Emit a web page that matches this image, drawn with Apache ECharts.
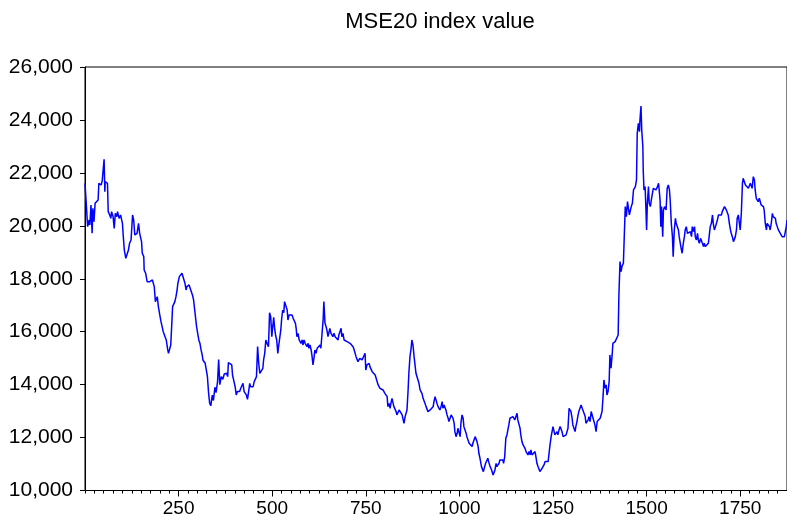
<!DOCTYPE html>
<html>
<head>
<meta charset="utf-8">
<script src="https://cdn.jsdelivr.net/npm/echarts@6/dist/echarts.min.js"></script>
<style>
html,body{margin:0;padding:0;background:#fff;}
#chart{width:787px;height:522px;}
</style>
</head>
<body>
<div id="chart"></div>
<script>
var chartTitle = 'MSE20 index value';
var yTicks = [10000, 12000, 14000, 16000, 18000, 20000, 22000, 24000, 26000];
var xTickLabels = [250, 500, 750, 1000, 1250, 1500, 1750];

var obsIdx = [
0,3,7,11,13,16,19,21,24,27,29,32,35,37,40,43,46,49,51,53,54,57,60,62,66,69,71,75,78,81,85,87,91,95,100,102,105,109,112,116,119,123,127,130,133,135,139,141,143,146,149,151,153,157,158,162,166,169,173,176,180,182,185,188,191,193,196,199,203,207,209,214,217,221,223,226,229,231,234,238,240,243,246,248,252,256,259,262,264,267,270,272,275,278,281,284,287,290,293,296,298,301,304,307,310,313,315,318,321,324,
327,330,333,336,340,343,347,350,354,357,360,364,368,372,
374,378,381,383,387,392,394,398,401,404,407,410,413,416,418,422,425,427,431,434,437,440,442,445,449,452,456,458,461,464,467,469,472,475,477,480,483,486,490,493,496,499,501,504,507,509,512,515,517,520,523,525,528,531,533,537,540,542,545,548,550,553,556,559,562,564,566,569,572,574,577,580,582,585,588,590,593,596,598,601,604,606,609,612,614,617,620,622,625,628,630,633,636,638,641,644,646,649,652,654,657,660,662,665,668,670,673,676,678,681,684,686,689,692,694,697,700,702,705,708,710,713,716,719,721,724,726,729,732,734,737,740,743,745,748,750,753,756,759,761,
764,767,769,772,775,777,780,783,785,788,791,793,796,799,801,804,807,809,812,815,817,820,823,825,828,831,833,836,839,841,844,847,849,852,855,857,860,863,865,868,871,873,876,879,881,884,887,889,892,895,897,900,903,906,908,911,914,916,919,922,924,927,930,932,935,938,940,943,946,948,951,954,956,959,962,964,967,970,972,975,978,980,983,986,988,991,994,996,999,1002,1004,1007,1010,1012,1015,1018,1020,1023,1026,1028,1031,1034,1036,1039,1042,1044,1047,1050,1052,1055,
1059,1064,1067,1070,1073,1076,1078,1082,1086,1090,1092,1095,1098,1100,1103,1106,1108,1112,1116,1118,1121,
1124,1127,1130,1132,1135,1138,1140,1143,1146,1148,1151,1154,1156,1159,1162,1164,1167,1170,1172,1175,1178,1181,1183,1186,1189,1191,1194,1197,1199,1202,1205,1207,1210,1213,1215,1218,1221,1223,1226,1229,1231,1234,1237,1239,1242,1245,1247,1250,1253,1255,1258,1261,1263,1266,1269,1271,1274,1277,1279,1282,1285,1287,1290,1293,1295,1298,1301,1303,1306,1309,1311,1314,1317,1319,1322,1325,1328,1330,1333,1336,1338,1341,1344,1346,1349,1352,1354,1357,1360,1362,1365,1368,1370,1373,1376,1378,1381,1384,1386,1389,1392,1394,1397,1400,1402,1405,1408,1410,1413,1416,1418,1421,1424,1426,
1429,1432,1434,1438,1441,1443,1446,1449,1451,1454,1457,1459,1462,1465,1467,1470,1473,1475,1478,1481,1482,1485,1487,1490,1491,1493,1496,1498,1500,1502,1505,1507,1510,1514,1518,1522,1525,1529,1532,1536,1538,1540,1543,1545,1548,1552,1555,1558,1561,1563,1566,1569,1571,1574,1577,1579,1582,1585,1587,1590,1593,1595,1598,1601,1603,1606,1609,1611,1614,1617,1620,1622,1625,1628,1630,1633,1636,1638,1641,1644,1646,1649,1652,1654,1657,1660,1662,1665,1668,1670,1673,1676,1678,1681,1684,1686,1689,1692,1694,1697,1700,1702,1705,1708,1710,1713,1716,1718,1721,1724,1726,1729,1732,1734,1737,1740,1742,1745,1748,1750,1753,1756,1758,1761,1764,1766,1769,1772,1774,1777,1780,1782,1785,1788,1790,1793,1796,1798,1801,1804,1806,1809,1812,1814,1817,1820,1822,1825,1828,1830,1833,1836,1838,1841,1844,1846,1849,1852,1854,1857,1860,1862,1865,1868,1871,1873,1875
];

var mseValue = [
21605,20913,19968,20220,20031,20787,19717,20661,20157,20850,20913,20787,20976,21605,21668,21542,21706,21668,22511,21290,21668,21605,21605,20535,20409,20283,20535,20346,19905,20472,20346,20535,20283,20409,20094,19654,19087,18772,18835,19087,19339,19465,20409,20220,19654,19591,19717,19654,20094,19717,19528,19402,18961,18835,18332,18206,17891,17828,17891,17828,17954,18017,17702,17136,17073,17324,16947,16695,16380,16317,16002,15940,15688,15310,15184,15121,15499,16065,16947,17010,17136,17324,17576,17828,18080,18143,18206,18269,18143,17828,17576,17702,17639,17765,17702,17513,17387,17199,16821,16443,16191,15940,15688,15562,15310,15121,14932,14995,14806,14555,
14300,13700,13300,13200,13600,13400,13900,13700,14100,14950,14000,14300,14200,14400,
14365,14428,14302,14831,14843,14743,14365,14302,13924,13610,13736,13799,13736,13862,13824,14050,13736,13673,13610,13446,13736,14050,13924,13988,13924,14113,14176,14302,15435,14806,14428,14491,14365,14617,14932,15183,15687,15561,15435,16719,16568,15813,16128,16543,16065,15876,15687,15183,15435,15410,16065,16442,16820,16719,17135,17072,16820,16442,16631,16694,16568,16631,16505,16442,16317,16128,15813,15939,15687,15750,15561,15687,15498,15687,15561,15498,15435,15561,15372,15498,15309,15120,14743,15057,15309,15183,15372,15309,15372,15498,15372,15435,16442,17135,16317,16191,16065,15813,15876,16128,15939,16002,15813,15939,15813,15876,15813,15687,15876,15813,16128,15813,15939,15687,15750,15687,15624,15687,15624,15561,15586,15498,15435,15309,15309,15057,14994,14869,14932,14994,15057,14932,14869,14994,15183,14554,14743,14680,14806,14680,
14679,14491,14553,14428,14365,14302,14365,13987,13924,13861,13924,13823,13798,13798,13672,13735,13546,13169,13294,13106,13294,13483,13294,13169,13231,12980,12854,12917,13043,13068,12980,12854,12791,12539,12791,12728,13043,13798,14428,15057,15372,15687,15498,15057,14805,14428,14491,14365,14050,13798,13798,13672,13483,13420,13294,13169,13231,12980,12917,13043,12980,13043,13169,13357,13546,13483,13294,13169,13106,13043,13169,13357,13106,13231,13169,13043,12854,12728,12602,12728,12854,12917,12728,12539,12224,12035,12161,12350,12287,12035,12539,12854,12728,12413,12287,12161,12035,11910,11784,11847,11721,11658,11784,11847,12035,11973,11847,11658,11406,11217,
10902,10713,10776,11028,11028,11217,11091,10902,10776,10588,10525,10776,11028,10902,10840,11028,11154,11217,11154,11028,11280,
11974,12100,12037,12478,12730,12793,12730,12793,12730,12667,12793,12919,12667,12730,12352,12100,11848,11722,11659,11597,11471,11534,11345,11471,11345,11534,11345,11408,11345,11471,11219,11030,10904,10841,10715,10652,10841,10904,10967,11093,11030,11156,11093,11345,11722,12037,11974,12415,12226,12100,12163,12226,12100,12289,12415,12352,12226,12037,12037,12037,12100,12037,12352,13107,13170,12982,12730,12478,12352,12226,12415,12604,12856,12982,13044,13233,13107,13044,13107,12793,12541,12604,12667,12793,12604,12982,13044,12730,12667,12478,12226,12604,12667,12667,12730,12730,12982,13611,14178,13863,13989,13611,13737,14115,15122,14618,15122,15562,15625,15625,15688,15688,15877,17388,
18647,18270,18458,18584,18647,20725,20347,20913,20976,20410,20347,20725,20850,21354,21417,21480,21732,23494,23872,23557,23935,24527,23620,22991,22109,21354,21480,20725,19843,20850,21480,20850,20725,21102,21417,21417,21354,21480,21606,20976,19969,20725,19591,20599,20725,20599,21417,21543,21354,20976,20095,19591,18836,19843,20284,20095,20095,19843,19591,19340,19088,18962,19340,19591,19843,19969,19717,19717,19654,19780,19591,19969,19780,19969,19591,19466,19717,19466,19340,19528,19591,19340,19214,19340,19214,19277,19214,19340,19717,19969,20095,20410,20095,19843,19969,19906,20221,20410,20473,20410,20410,20536,20599,20725,20662,20599,20536,20410,20095,19843,19717,19591,19403,19466,19591,19843,20284,20410,20347,19843,20473,21606,21795,21669,21543,21543,21480,21417,21480,21606,21543,21417,21858,21732,21354,21039,21039,20913,21039,20976,20788,20788,20725,20599,20095,19843,20095,20158,19969,19843,20095,20473,20347,20410,20284,20095,19969,19843,19780,19717,19654,19591,19654,19591,19654,19969,20221
];

var seriesData = obsIdx.map(function (x, i) { return [x, mseValue[i]]; });

var FONT = '"Liberation Sans", Arial, sans-serif';
var chart = echarts.init(document.getElementById('chart'), null, {renderer: 'canvas'});
chart.setOption({
  animation: false,
  backgroundColor: '#ffffff',
  graphic: [{
    type: 'text', x: 440, y: 22,
    style: {text: chartTitle, fontSize: 22, fontFamily: FONT, fill: '#000', textAlign: 'center', textVerticalAlign: 'middle'}
  }],
  grid: {left: 85, right: 0, top: 67, height: 423.5, show: true, borderColor: '#000', borderWidth: 1, backgroundColor: 'transparent'},
  xAxis: [{
    type: 'value', min: 0, max: 1875, interval: 250,
    axisLine: {show: true, lineStyle: {color: '#000', width: 1}},
    axisTick: {show: true, length: 6, inside: false, lineStyle: {color: '#000'}},
    splitLine: {show: false},
    axisLabel: {
      fontSize: 19, fontFamily: FONT, color: '#000', margin: 9,
      showMinLabel: false, showMaxLabel: false,
      formatter: function (v) { return xTickLabels.indexOf(v) >= 0 ? String(v) : ''; }
    }
  }, {
    type: 'value', min: 0, max: 1875, interval: 25, position: 'bottom', gridIndex: 0,
    axisLine: {show: false},
    axisTick: {show: true, length: 3, lineStyle: {color: '#000'}},
    axisLabel: {show: false},
    splitLine: {show: false}
  }],
  yAxis: {
    type: 'value', min: yTicks[0], max: yTicks[yTicks.length - 1], interval: 2000,
    axisLine: {show: true, lineStyle: {color: '#000', width: 1}},
    axisTick: {show: true, length: 5, lineStyle: {color: '#000'}},
    splitLine: {show: false},
    axisLabel: {
      fontSize: 21, fontFamily: FONT, color: '#000', margin: 12,
      formatter: function (v) { return v.toLocaleString('en-US'); }
    }
  },
  series: [{
    type: 'line', xAxisIndex: 0, data: seriesData,
    showSymbol: false, symbol: 'none',
    lineStyle: {color: '#0000ff', width: 1.5},
    silent: true
  }]
});
</script>
</body>
</html>
